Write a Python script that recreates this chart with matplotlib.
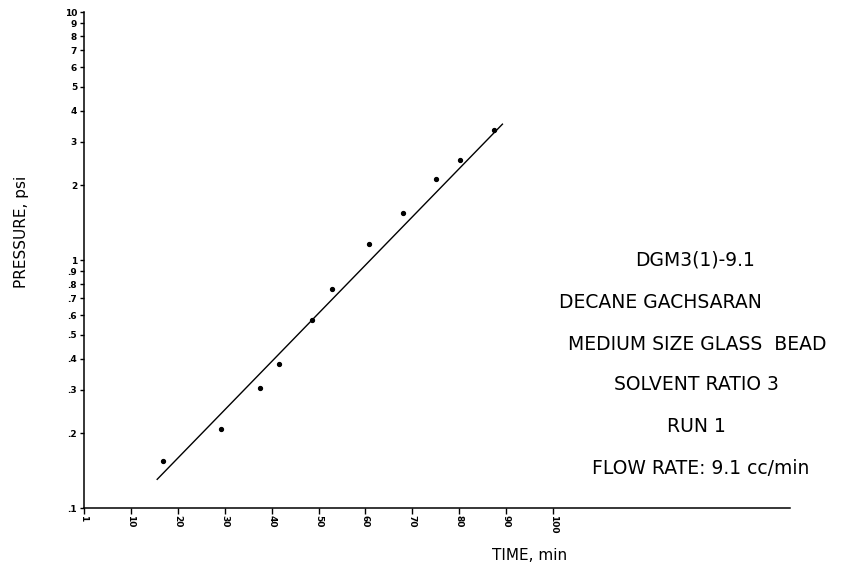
import matplotlib
matplotlib.use("Agg")
import matplotlib.pyplot as plt
from matplotlib.ticker import FixedLocator, FixedFormatter, NullLocator

# measured points
time_min = [16.9, 29.2, 37.5, 41.6, 48.6, 52.8, 60.8, 67.9, 75.0, 80.2, 87.3]
pressure_psi = [0.154, 0.209, 0.305, 0.381, 0.573, 0.764, 1.156, 1.55, 2.13, 2.53, 3.34]

# fitted straight line (semilog)
fit_time = [15.6, 89.2]
fit_pressure = [0.1305, 3.53]

x_ticks = [0, 10, 20, 30, 40, 50, 60, 70, 80, 90, 100]
x_tick_labels = ["1", "10", "20", "30", "40", "50", "60", "70", "80", "90", "100"]
y_ticks = [0.1, 0.2, 0.3, 0.4, 0.5, 0.6, 0.7, 0.8, 0.9, 1, 2, 3, 4, 5, 6, 7, 8, 9, 10]
y_tick_labels = [".1", ".2", ".3", ".4", ".5", ".6", ".7", ".8", ".9",
                 "1", "2", "3", "4", "5", "6", "7", "8", "9", "10"]

notes = [
    ("DGM3(1)-9.1", 695, 260),
    ("DECANE GACHSARAN", 660, 303),
    ("MEDIUM SIZE GLASS  BEAD", 697, 344),
    ("SOLVENT RATIO 3", 696, 385),
    ("RUN 1", 696, 427),
    ("FLOW RATE: 9.1 cc/min", 701, 468),
]

W, H = 848, 570
fig = plt.figure(figsize=(W / 100, H / 100), dpi=100)
ax = fig.add_axes([84 / W, (H - 508) / H, (790 - 84) / W, (508 - 12) / H])

ax.plot(fit_time, fit_pressure, color="black", linewidth=1.0)
ax.plot(time_min, pressure_psi, "o", color="black", markersize=2.8)

ax.set_yscale("log")
ax.set_ylim(0.1, 10)
ax.set_xlim(0, 150.5)

ax.yaxis.set_major_locator(FixedLocator(y_ticks))
ax.yaxis.set_major_formatter(FixedFormatter(y_tick_labels))
ax.yaxis.set_minor_locator(NullLocator())
ax.xaxis.set_major_locator(FixedLocator(x_ticks))
ax.xaxis.set_major_formatter(FixedFormatter(x_tick_labels))

ax.spines["top"].set_visible(False)
ax.spines["right"].set_visible(False)
for s in ("left", "bottom"):
    ax.spines[s].set_linewidth(1.1)

ax.tick_params(axis="y", direction="out", length=3, width=1, pad=2,
               labelsize=6.5)
ax.tick_params(axis="x", direction="out", length=4, width=1, pad=1,
               labelsize=6.5, labelrotation=270)
for lab in ax.get_yticklabels() + ax.get_xticklabels():
    lab.set_fontweight("bold")

fig.text(22 / W, 1 - 232 / H, "PRESSURE, psi", rotation=90,
         ha="center", va="center", fontsize=11)
fig.text(530 / W, 1 - 555 / H, "TIME, min", ha="center", va="center",
         fontsize=11)

for txt, x, y in notes:
    fig.text(x / W, 1 - y / H, txt, ha="center", va="center",
             fontsize=13.5, family="DejaVu Sans")

fig.savefig("out.png", dpi=100)
